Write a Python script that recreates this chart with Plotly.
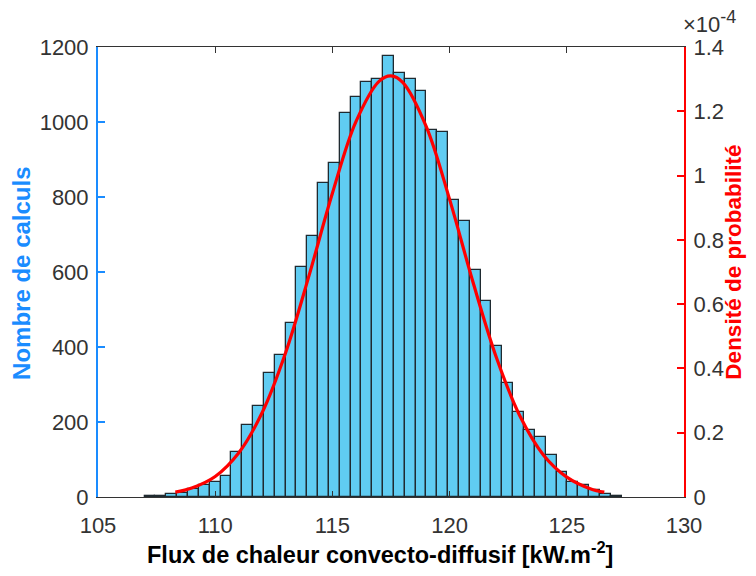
import plotly.graph_objects as go

# ---- data ----
bin_start = 106.99          # left edge of first bin [kW.m-2]
bin_width = 0.4624          # bin width [kW.m-2]
counts = [2, 3, 7, 11, 21, 33, 39, 57, 121, 192,
          243, 330, 380, 465, 614, 695, 838, 890, 1024, 1067,
          1107, 1114, 1176, 1132, 1114, 1084, 980, 974, 791, 735,
          606, 522, 402, 305, 228, 178, 159, 113, 67, 40,
          33, 18, 9, 4]

# probability density curve (units of 1e-4)
pdf_x = [108.3, 109, 110, 111, 112, 113, 114, 115, 116, 117, 117.5,
         118, 119, 120, 121, 122, 123, 124, 125, 126, 126.6]
pdf_y = [0.015, 0.028, 0.064, 0.137, 0.262, 0.448, 0.688, 0.945, 1.167, 1.294, 1.310,
         1.290, 1.153, 0.926, 0.668, 0.433, 0.252, 0.131, 0.062, 0.026, 0.015]

x_ticks = [105, 110, 115, 120, 125, 130]
y_ticks = [0, 200, 400, 600, 800, 1000, 1200]
y2_ticks = [0, 0.2, 0.4, 0.6, 0.8, 1, 1.2, 1.4]
y2_ticklabels = ["0", "0.2", "0.4", "0.6", "0.8", "1", "1.2", "1.4"]

# ---- styles ----
BLUE = "#1A8CFF"
RED = "#FF0000"
GRAY = "#333333"
FONT = "Liberation Sans, Arial, sans-serif"
TICK = 22

centers = [bin_start + bin_width * (i + 0.5) for i in range(len(counts))]

fig = go.Figure()
fig.add_trace(go.Bar(
    x=centers, y=counts, width=bin_width,
    marker=dict(color="#60CCF2", line=dict(color="#1F2A30", width=1.3)),
    showlegend=False,
))
fig.add_trace(go.Scatter(
    x=pdf_x, y=pdf_y, yaxis="y2", mode="lines",
    line=dict(color=RED, width=3.2, shape="spline", smoothing=1.0),
    showlegend=False,
))

fig.update_layout(
    width=740, height=560,
    margin=dict(l=90, r=64, t=39, b=71),
    paper_bgcolor="white", plot_bgcolor="white",
    font=dict(family=FONT, size=TICK, color=GRAY),
    bargap=0,
    xaxis=dict(
        range=[105, 130], tickvals=x_ticks, ticks="inside", ticklen=6,
        tickcolor=GRAY, showline=True, linecolor=GRAY, linewidth=1.2,
        mirror="ticks", showgrid=False, zeroline=False, ticklabelstandoff=8,
        tickfont=dict(size=TICK, color=GRAY),
    ),
    yaxis=dict(
        range=[0, 1200], tickvals=y_ticks, ticks="inside", ticklen=7,
        tickcolor=BLUE, tickwidth=2, showline=True, linecolor=BLUE, linewidth=2,
        showgrid=False, zeroline=False, ticklabelstandoff=3,
        tickfont=dict(size=TICK, color=GRAY),
    ),
    yaxis2=dict(
        range=[0, 1.4], tickvals=y2_ticks, ticktext=y2_ticklabels,
        overlaying="y", side="right", ticks="inside", ticklen=7,
        tickcolor=RED, tickwidth=2, showline=True, linecolor=RED, linewidth=2,
        showgrid=False, zeroline=False, ticklabelstandoff=3,
        tickfont=dict(size=TICK, color=GRAY),
    ),
    annotations=[
        dict(text="<b>Nombre de calculs</b>", xref="paper", yref="paper",
             x=-0.1297, y=0.498, xanchor="center", yanchor="middle",
             textangle=-90, showarrow=False,
             font=dict(size=24, color=BLUE, family=FONT)),
        dict(text="<b>Densité de probabilité</b>", xref="paper", yref="paper",
             x=1.0853, y=0.523, xanchor="center", yanchor="middle",
             textangle=-90, showarrow=False,
             font=dict(size=22.5, color=RED, family=FONT)),
        dict(text="<b>Flux de chaleur convecto-diffusif [kW.m<sup>-2</sup>]</b>",
             xref="paper", yref="paper", x=0.4804, y=-0.1244,
             xanchor="center", yanchor="middle", showarrow=False,
             font=dict(size=23.5, color="black", family=FONT)),
        dict(text="×10<sup><span style='font-size:18px'>-4</span></sup>",
             xref="paper", yref="paper",
             x=1.0, y=1.0, xanchor="left", yanchor="bottom", xshift=-3, yshift=8,
             showarrow=False, font=dict(size=22, color=GRAY, family=FONT)),
    ],
)

fig.write_html("out.html")
